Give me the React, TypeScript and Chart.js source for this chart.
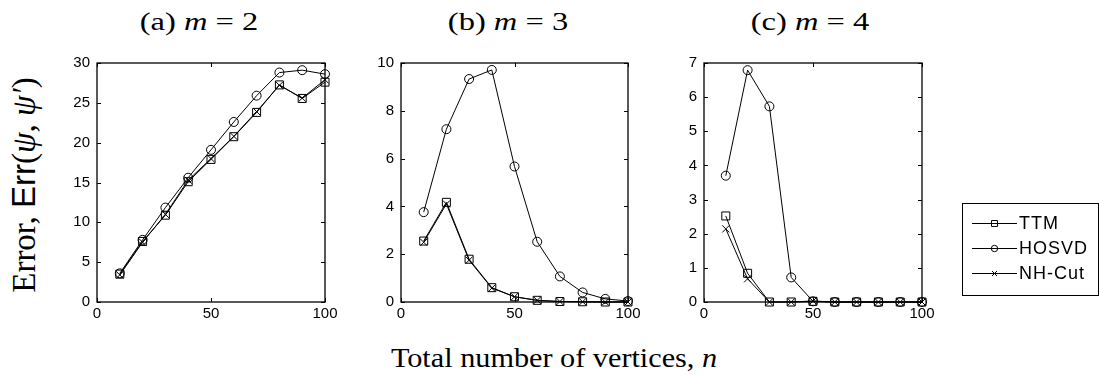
import React, { useEffect, useRef } from 'react';
import { Chart, registerables } from 'chart.js';

Chart.register(...registerables);

// ---- data ----
const vertices = [10, 20, 30, 40, 50, 60, 70, 80, 90, 100];
const xMin = 0;
const xMax = 100;
const xStep = 50;

const ttmM2 = [3.5, 7.6, 10.9, 15.1, 17.9, 20.75, 23.8, 27.25, 25.55, 27.6];
const hosvdM2 = [3.6, 7.8, 11.85, 15.6, 19.1, 22.6, 25.9, 28.8, 29.1, 28.6];
const nhcutM2 = [3.4, 7.5, 11.0, 15.3, 18.0, 20.8, 23.9, 27.2, 25.6, 27.9];

const ttmM3 = [2.55, 4.17, 1.79, 0.6, 0.22, 0.07, 0.02, 0.01, 0.0, 0.0];
const hosvdM3 = [3.76, 7.23, 9.33, 9.71, 5.67, 2.52, 1.07, 0.4, 0.13, 0.04];
const nhcutM3 = [2.5, 4.1, 1.75, 0.58, 0.22, 0.07, 0.02, 0.01, 0.0, 0.0];

const ttmM4 = [2.52, 0.84, 0, 0, 0.02, 0, 0, 0, 0, 0];
const hosvdM4 = [3.7, 6.79, 5.73, 0.72, 0.02, 0, 0, 0, 0, 0];
const nhcutM4 = [2.14, 0.68, 0, 0, 0.03, 0, 0, 0, 0, 0];

const yMaxM2 = 30;
const yStepM2 = 5;
const yMaxM3 = 10;
const yStepM3 = 2;
const yMaxM4 = 7;
const yStepM4 = 1;

const seriesNames = ['TTM', 'HOSVD', 'NH-Cut'];
const panelTitles = ['(a)', '(b)', '(c)'];
const panelM = ['2', '3', '4'];

// ---- styles ----
const markerStyles = [
  { pointStyle: 'rect', radius: 5.66, legendRadius: 4.2 },
  { pointStyle: 'circle', radius: 4.5, legendRadius: 3.2 },
  { pointStyle: 'crossRot', radius: 5, legendRadius: 3.5 },
];

const tickFont = { family: '"Liberation Sans", Arial, sans-serif', size: 15 };

const boxTicksPlugin = {
  id: 'boxTicks',
  beforeDatasetsDraw(chart: any) {
    const { ctx, chartArea, scales } = chart;
    const { left, right, top, bottom } = chartArea;
    const x = scales.x;
    const y = scales.y;
    ctx.save();
    ctx.strokeStyle = '#000';
    ctx.lineWidth = 1.3;
    ctx.strokeRect(left, top, right - left, bottom - top);
    const tl = 4;
    ctx.lineWidth = 1;
    ctx.beginPath();
    x.ticks.forEach((t: any) => {
      const px = Math.round(x.getPixelForValue(t.value)) + 0.5;
      ctx.moveTo(px, bottom);
      ctx.lineTo(px, bottom - tl);
      ctx.moveTo(px, top);
      ctx.lineTo(px, top + tl);
    });
    y.ticks.forEach((t: any) => {
      const py = Math.round(y.getPixelForValue(t.value)) + 0.5;
      ctx.moveTo(left, py);
      ctx.lineTo(left + tl, py);
      ctx.moveTo(right, py);
      ctx.lineTo(right - tl, py);
    });
    ctx.stroke();
    ctx.restore();
  },
};

function drawMarker(ctx: CanvasRenderingContext2D, style: string, x: number, y: number, r: number) {
  ctx.beginPath();
  if (style === 'rect') {
    const s = Math.SQRT1_2 * r;
    ctx.rect(x - s, y - s, 2 * s, 2 * s);
  } else if (style === 'circle') {
    ctx.arc(x, y, r, 0, Math.PI * 2);
  } else {
    const o = Math.SQRT1_2 * r;
    ctx.moveTo(x - o, y - o);
    ctx.lineTo(x + o, y + o);
    ctx.moveTo(x - o, y + o);
    ctx.lineTo(x + o, y - o);
  }
  ctx.stroke();
}

const legendPlugin = {
  id: 'sideLegend',
  afterDraw(chart: any) {
    const opts = chart.options.plugins.sideLegend;
    if (!opts || !opts.show) return;
    const { ctx } = chart;
    const { boxLeft, boxTop, boxRight, boxBottom, lineX1, lineX2, textX, rowY } = opts;
    ctx.save();
    ctx.strokeStyle = '#000';
    ctx.fillStyle = '#fff';
    ctx.lineWidth = 1;
    ctx.fillRect(boxLeft, boxTop, boxRight - boxLeft, boxBottom - boxTop);
    ctx.strokeRect(boxLeft + 0.5, boxTop + 0.5, boxRight - boxLeft, boxBottom - boxTop);
    ctx.font = '18px "Liberation Sans", Arial, sans-serif';
    (ctx as any).letterSpacing = '1px';
    ctx.textBaseline = 'middle';
    ctx.textAlign = 'left';
    chart.data.datasets.forEach((ds: any, i: number) => {
      const yy = rowY[i] + 0.5;
      ctx.strokeStyle = '#000';
      ctx.lineWidth = 1;
      ctx.beginPath();
      ctx.moveTo(lineX1, yy);
      ctx.lineTo(lineX2, yy);
      ctx.stroke();
      drawMarker(ctx, markerStyles[i].pointStyle, (lineX1 + lineX2) / 2, yy, markerStyles[i].legendRadius);
      ctx.fillStyle = '#000';
      ctx.fillText(ds.label, textX, yy + 1);
    });
    ctx.restore();
  },
};

type PanelCfg = {
  series: number[][];
  yMax: number;
  yStep: number;
  canvasLeft: number;
  canvasWidth: number;
  yAxisWidth: number;
  padRight: number;
  legend: boolean;
};

const CANVAS_TOP = 50;
const CANVAS_H = 280;

function Panel({ cfg }: { cfg: PanelCfg }) {
  const ref = useRef<HTMLCanvasElement | null>(null);
  useEffect(() => {
    if (!ref.current) return;
    const datasets = cfg.series.map((vals, i) => ({
      label: seriesNames[i],
      data: vertices.map((v, j) => ({ x: v, y: vals[j] })),
      borderColor: '#000',
      borderWidth: 1,
      backgroundColor: 'rgba(0,0,0,0)',
      pointBackgroundColor: 'rgba(0,0,0,0)',
      pointBorderColor: '#000',
      pointBorderWidth: 1,
      pointStyle: markerStyles[i].pointStyle,
      pointRadius: markerStyles[i].radius,
      tension: 0,
      fill: false,
      clip: false,
    }));
    const chart = new Chart(ref.current, {
      type: 'line',
      data: { datasets } as any,
      options: {
        animation: false,
        responsive: false,
        events: [],
        layout: {
          autoPadding: false,
          padding: { top: 13, left: 0, right: cfg.padRight, bottom: 0 },
        },
        plugins: {
          legend: { display: false },
          tooltip: { enabled: false },
          title: { display: false },
          sideLegend: cfg.legend
            ? {
                show: true,
                boxLeft: 962 - cfg.canvasLeft,
                boxTop: 203 - CANVAS_TOP,
                boxRight: 1098 - cfg.canvasLeft,
                boxBottom: 295 - CANVAS_TOP,
                lineX1: 972 - cfg.canvasLeft,
                lineX2: 1017 - cfg.canvasLeft,
                textX: 1019 - cfg.canvasLeft,
                rowY: [223 - CANVAS_TOP, 248 - CANVAS_TOP, 273 - CANVAS_TOP],
              }
            : { show: false },
        } as any,
        scales: {
          x: {
            type: 'linear',
            min: xMin,
            max: xMax,
            ticks: { stepSize: xStep, font: tickFont, color: '#000', padding: 3, maxRotation: 0, autoSkip: false },
            grid: { display: false, drawTicks: false },
            border: { display: false },
            afterFit(s: any) {
              s.height = 28;
              s.paddingLeft = 0;
              s.paddingRight = 0;
            },
          },
          y: {
            type: 'linear',
            min: 0,
            max: cfg.yMax,
            ticks: { stepSize: cfg.yStep, font: tickFont, color: '#000', padding: 7 },
            grid: { display: false, drawTicks: false },
            border: { display: false },
            afterFit(s: any) {
              s.width = cfg.yAxisWidth;
              s.paddingTop = 0;
              s.paddingBottom = 0;
            },
          },
        },
      } as any,
      plugins: [boxTicksPlugin, legendPlugin],
    });
    return () => chart.destroy();
  }, [cfg]);
  return (
    <div style={{ position: 'absolute', left: cfg.canvasLeft, top: CANVAS_TOP, width: cfg.canvasWidth, height: CANVAS_H }}>
      <canvas ref={ref} width={cfg.canvasWidth} height={CANVAS_H} style={{ width: cfg.canvasWidth, height: CANVAS_H, display: 'block' }} />
    </div>
  );
}

const panels: PanelCfg[] = [
  { series: [ttmM2, hosvdM2, nhcutM2], yMax: yMaxM2, yStep: yStepM2, canvasLeft: 60, canvasWidth: 280, yAxisWidth: 37, padRight: 15, legend: false },
  { series: [ttmM3, hosvdM3, nhcutM3], yMax: yMaxM3, yStep: yStepM3, canvasLeft: 360, canvasWidth: 285, yAxisWidth: 41, padRight: 17, legend: false },
  { series: [ttmM4, hosvdM4, nhcutM4], yMax: yMaxM4, yStep: yStepM4, canvasLeft: 665, canvasWidth: 434, yAxisWidth: 39, padRight: 177, legend: true },
];

const titleCenters = [199, 508, 810];
const serif = '"Liberation Serif", "DejaVu Serif", serif';

export default function App() {
  return (
    <div style={{ position: 'absolute', left: 0, top: 0, width: 1099, height: 375, background: '#fff', fontFamily: serif, color: '#000', overflow: 'hidden' }}>
      {panels.map((p, i) => (
        <Panel key={i} cfg={p} />
      ))}
      {panelTitles.map((t, i) => (
        <div
          key={'t' + i}
          style={{
            position: 'absolute',
            left: titleCenters[i] - 100,
            width: 200,
            top: 7,
            lineHeight: '30px',
            fontSize: 25,
            textAlign: 'center',
            whiteSpace: 'nowrap',
            transform: 'scaleX(1.3)',
          }}
        >
          {t} <i>m</i> = {panelM[i]}
        </div>
      ))}
      <div
        style={{
          position: 'absolute',
          left: 24 - 160,
          top: 185 - 20,
          width: 320,
          height: 40,
          lineHeight: '40px',
          fontSize: 33,
          textAlign: 'center',
          whiteSpace: 'nowrap',
          transform: 'rotate(-90deg)',
        }}
      >
        Error, <span style={{ fontFamily: '"Liberation Sans", Arial, sans-serif' }}>Err</span>(<i>ψ</i>, <i>ψ′</i>)
      </div>
      <div
        style={{
          position: 'absolute',
          left: 554 - 250,
          top: 338,
          width: 500,
          height: 40,
          lineHeight: '40px',
          fontSize: 28,
          textAlign: 'center',
          whiteSpace: 'nowrap',
          transform: 'scaleX(1.08)',
        }}
      >
        Total number of vertices, <i>n</i>
      </div>
    </div>
  );
}
